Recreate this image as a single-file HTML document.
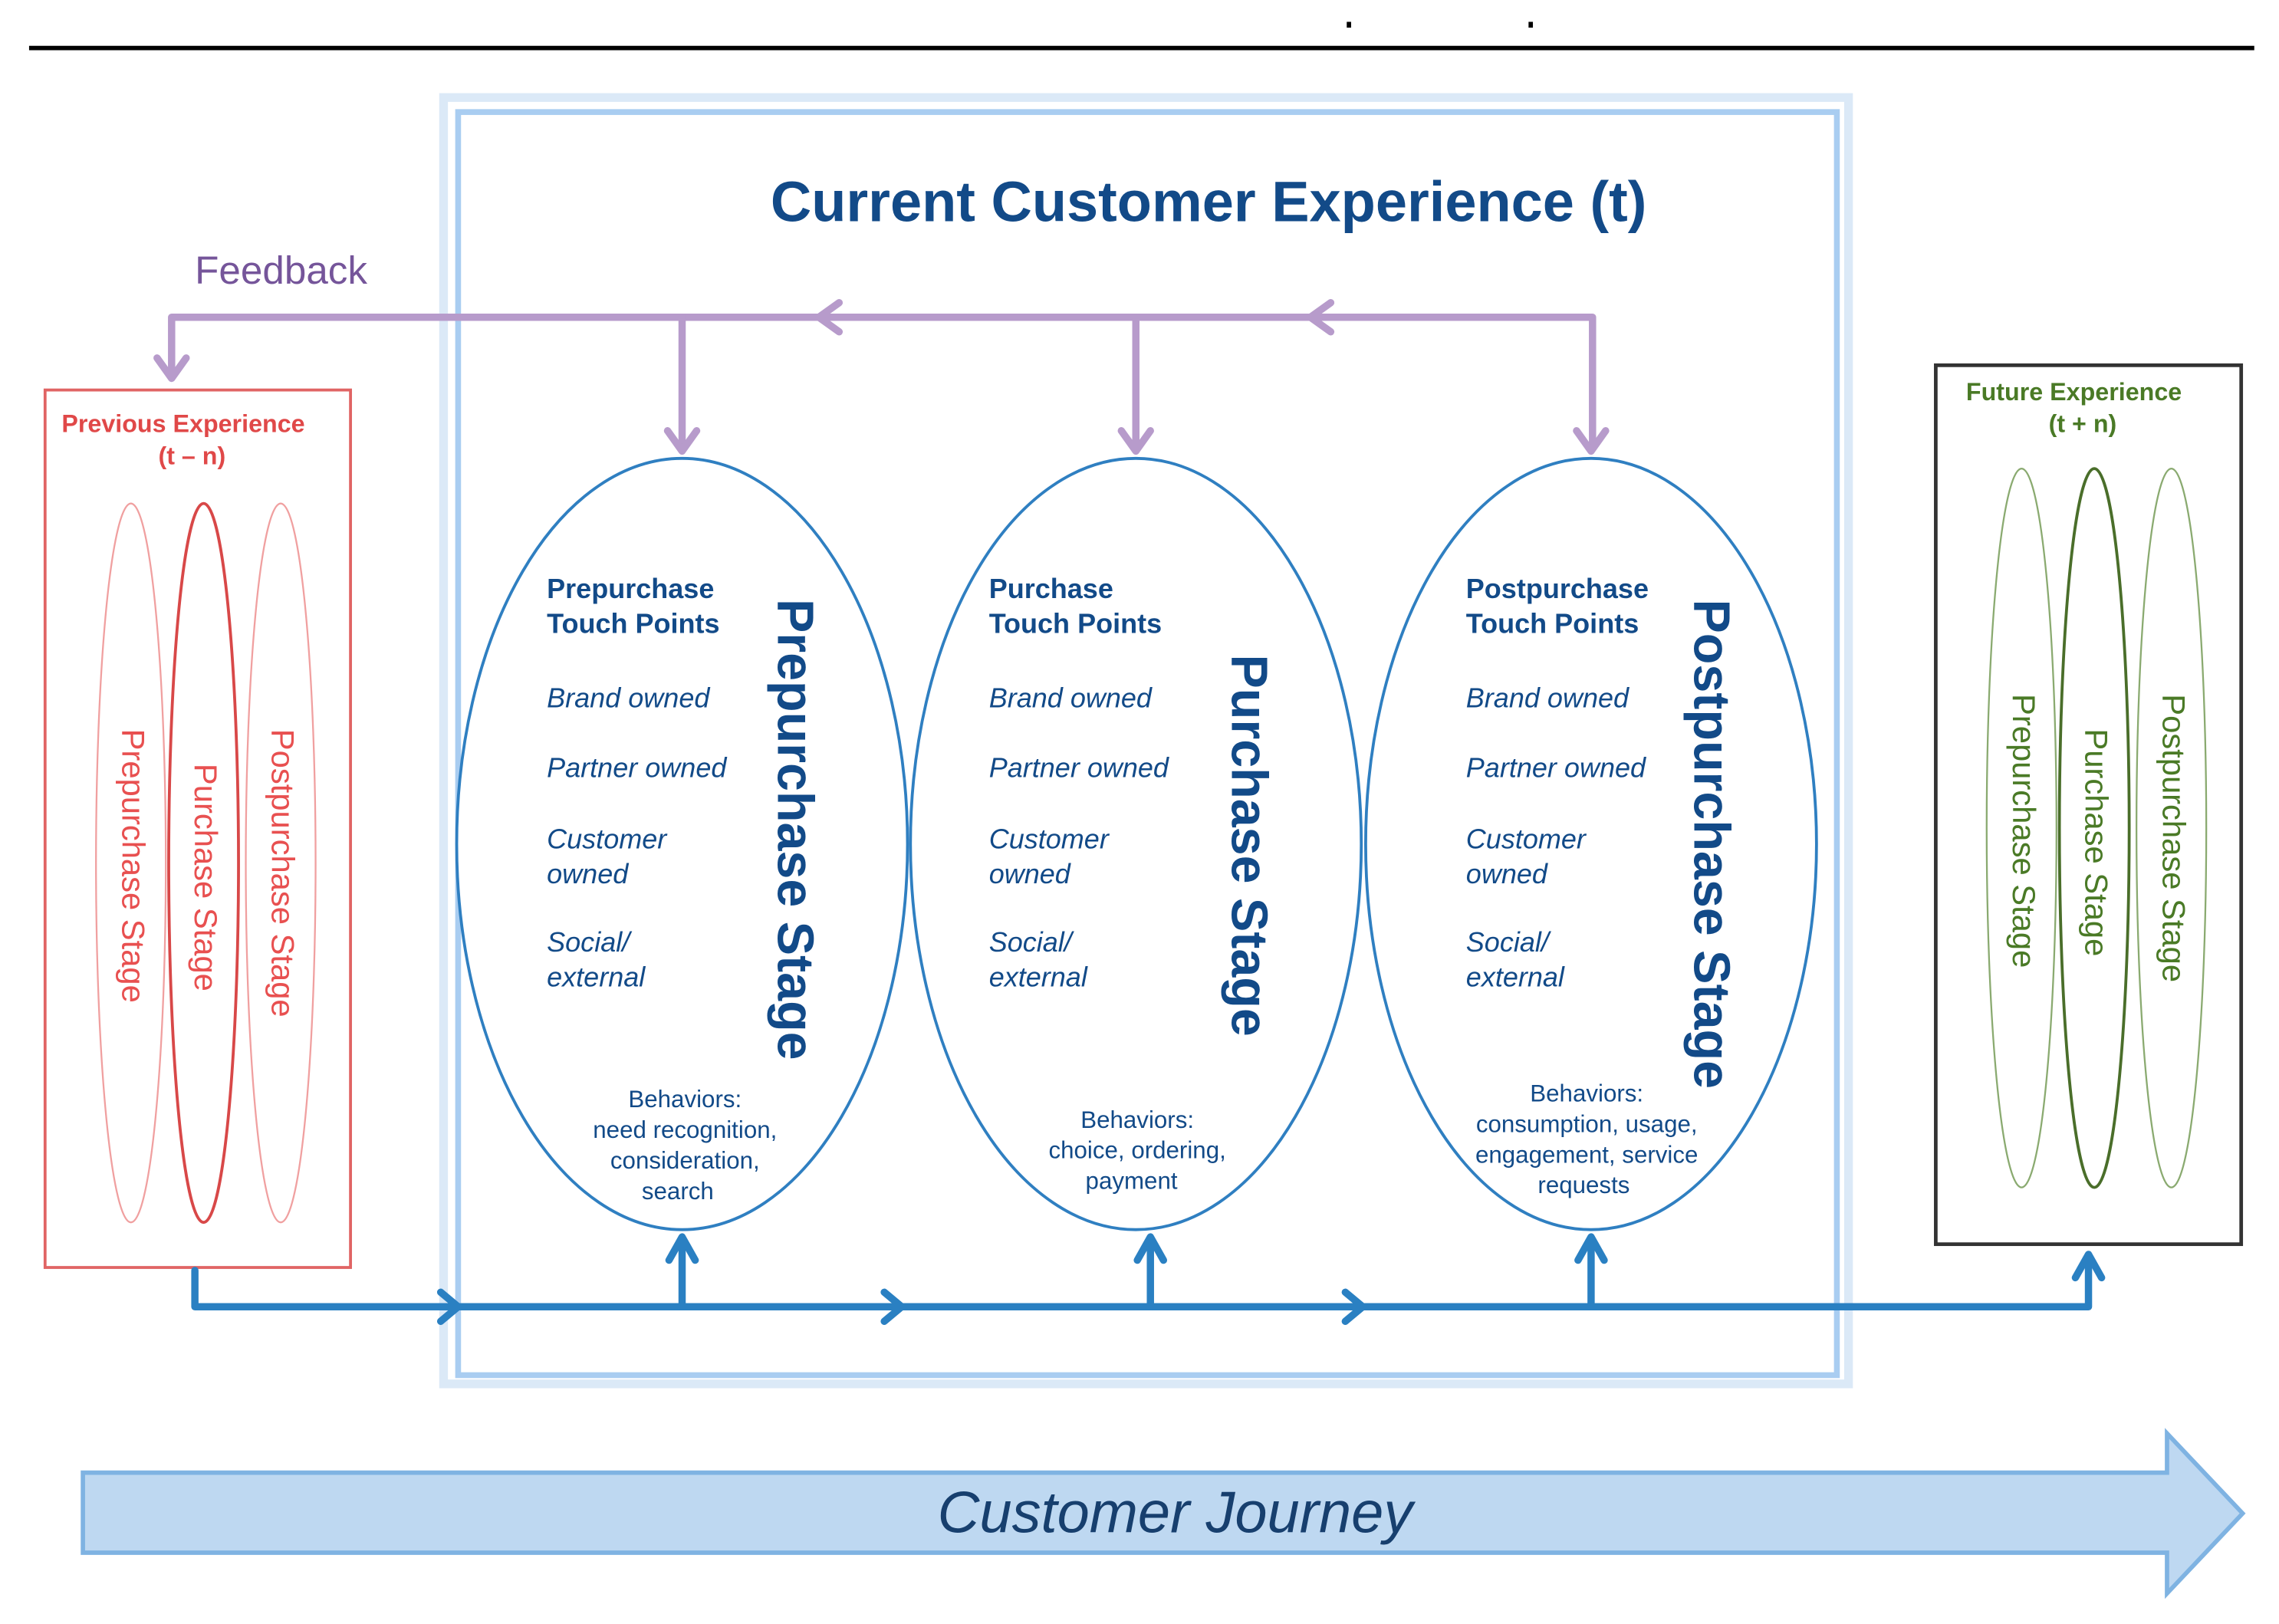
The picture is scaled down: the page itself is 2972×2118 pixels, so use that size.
<!DOCTYPE html>
<html><head><meta charset="utf-8"><style>
html,body{margin:0;padding:0;background:#fff;}
svg{display:block;}
text{font-family:"Liberation Sans",Arial,sans-serif;}
</style></head><body>
<svg width="2972" height="2118" viewBox="0 0 1567 1116" preserveAspectRatio="none" xmlns="http://www.w3.org/2000/svg">
<rect width="1567" height="1116" fill="#fff"/>
<line x1="20" y1="33" x2="1550" y2="33" stroke="#000" stroke-width="3"/>
<rect x="926" y="15" width="3" height="4" fill="#000"/><rect x="1051" y="15" width="3" height="4" fill="#000"/>
<rect x="305" y="67" width="966" height="884" fill="none" stroke="#dbe9f7" stroke-width="6"/>
<rect x="315" y="77" width="948" height="868" fill="none" stroke="#a9cdf1" stroke-width="4"/>
<text x="831" y="152" text-anchor="middle" font-size="39" font-weight="bold" fill="#124a88">Current Customer Experience (t)</text>
<text x="134" y="195" font-size="27" fill="#75559a">Feedback</text>
<g stroke="#b79bcb" stroke-width="5" fill="none" stroke-linecap="round" stroke-linejoin="round">
<polyline points="118,258 118,218 1095,218 1095,308"/>
<line x1="469" y1="218" x2="469" y2="308"/>
<line x1="781" y1="218" x2="781" y2="308"/>
<polyline points="108,246 118,260 128,246"/>
<polyline points="459,296 469,310 479,296"/>
<polyline points="771,296 781,310 791,296"/>
<polyline points="1084,296 1094,310 1104,296"/>
<polyline points="577,208 563,218 577,228"/>
<polyline points="915,208 901,218 915,228"/>
</g>
<rect x="31" y="268" width="210" height="603" fill="none" stroke="#e06464" stroke-width="2"/>
<text x="126" y="297" text-anchor="middle" font-size="17" font-weight="bold" fill="#e04848">Previous Experience</text>
<text x="132" y="319" text-anchor="middle" font-size="17" font-weight="bold" fill="#e04848">(t – n)</text>
<g fill="none">
<ellipse cx="90" cy="593" rx="24" ry="247" stroke="#f0a0a0" stroke-width="1.2"/>
<ellipse cx="193" cy="593" rx="24" ry="247" stroke="#f0a0a0" stroke-width="1.2"/>
<ellipse cx="140" cy="593" rx="24" ry="247" stroke="#d84848" stroke-width="2"/>
</g>
<g font-size="22" fill="#e85050" text-anchor="middle">
<text transform="translate(84,595) rotate(90)">Prepurchase Stage</text>
<text transform="translate(134,603) rotate(90)">Purchase Stage</text>
<text transform="translate(187,600) rotate(90)">Postpurchase Stage</text>
</g>
<rect x="1331" y="251" width="210" height="604" fill="none" stroke="#333" stroke-width="2.5"/>
<text x="1426" y="275" text-anchor="middle" font-size="17" font-weight="bold" fill="#4a7a26">Future Experience</text>
<text x="1432" y="297" text-anchor="middle" font-size="17" font-weight="bold" fill="#4a7a26">(t + n)</text>
<g fill="none">
<ellipse cx="1390" cy="569" rx="24" ry="247" stroke="#8aaa70" stroke-width="1.2"/>
<ellipse cx="1493" cy="569" rx="24" ry="247" stroke="#8aaa70" stroke-width="1.2"/>
<ellipse cx="1440" cy="569" rx="24" ry="247" stroke="#4a6e2a" stroke-width="2"/>
</g>
<g font-size="22" fill="#4a7a26" text-anchor="middle">
<text transform="translate(1384,571) rotate(90)">Prepurchase Stage</text>
<text transform="translate(1434,579) rotate(90)">Purchase Stage</text>
<text transform="translate(1487,576) rotate(90)">Postpurchase Stage</text>
</g>
<g fill="#fff" stroke="#2f7fc1" stroke-width="2">
<ellipse cx="469" cy="580" rx="155" ry="265"/>
<ellipse cx="781" cy="580" rx="155" ry="265"/>
<ellipse cx="1094" cy="580" rx="155" ry="265"/>
</g>
<g fill="#124a88">
<g font-size="19">
<text x="376" y="411" font-weight="bold">Prepurchase</text><text x="376" y="435" font-weight="bold">Touch Points</text>
<text x="376" y="486" font-style="italic">Brand owned</text><text x="376" y="534" font-style="italic">Partner owned</text>
<text x="376" y="583" font-style="italic">Customer</text><text x="376" y="607" font-style="italic">owned</text>
<text x="376" y="654" font-style="italic">Social/</text><text x="376" y="678" font-style="italic">external</text>
<text x="680" y="411" font-weight="bold">Purchase</text><text x="680" y="435" font-weight="bold">Touch Points</text>
<text x="680" y="486" font-style="italic">Brand owned</text><text x="680" y="534" font-style="italic">Partner owned</text>
<text x="680" y="583" font-style="italic">Customer</text><text x="680" y="607" font-style="italic">owned</text>
<text x="680" y="654" font-style="italic">Social/</text><text x="680" y="678" font-style="italic">external</text>
<text x="1008" y="411" font-weight="bold">Postpurchase</text><text x="1008" y="435" font-weight="bold">Touch Points</text>
<text x="1008" y="486" font-style="italic">Brand owned</text><text x="1008" y="534" font-style="italic">Partner owned</text>
<text x="1008" y="583" font-style="italic">Customer</text><text x="1008" y="607" font-style="italic">owned</text>
<text x="1008" y="654" font-style="italic">Social/</text><text x="1008" y="678" font-style="italic">external</text>
</g>
<g font-size="35" font-weight="bold" text-anchor="middle">
<text transform="translate(535,570) rotate(90)">Prepurchase Stage</text>
<text transform="translate(847,581) rotate(90)">Purchase Stage</text>
<text transform="translate(1165,580) rotate(90)">Postpurchase Stage</text>
</g>
<g font-size="16.5" text-anchor="middle">
<text x="471" y="761">Behaviors:</text><text x="471" y="782">need recognition,</text><text x="471" y="803">consideration,</text><text x="466" y="824">search</text>
<text x="782" y="775">Behaviors:</text><text x="782" y="796">choice, ordering,</text><text x="778" y="817">payment</text>
<text x="1091" y="757">Behaviors:</text><text x="1091" y="778">consumption, usage,</text><text x="1091" y="799">engagement, service</text><text x="1089" y="820">requests</text>
</g>
</g>
<g stroke="#2a80c2" stroke-width="5" fill="none" stroke-linecap="round" stroke-linejoin="round">
<polyline points="134,873 134,898 1436,898 1436,866"/>
<line x1="469" y1="898" x2="469" y2="852"/>
<line x1="791" y1="898" x2="791" y2="852"/>
<line x1="1094" y1="898" x2="1094" y2="852"/>
<polyline points="460,866 469,850 478,866"/>
<polyline points="782,866 791,850 800,866"/>
<polyline points="1085,866 1094,850 1103,866"/>
<polyline points="1427,878 1436,862 1445,878"/>
<polyline points="303,888 315,898 303,908"/>
<polyline points="608,888 620,898 608,908"/>
<polyline points="925,888 937,898 925,908"/>
</g>
<polygon points="57,1012 1490,1012 1490,985 1542,1040 1490,1095 1490,1067 57,1067" fill="#bed8f1" stroke="#7fb3e2" stroke-width="3"/>
<text x="808" y="1053" text-anchor="middle" font-size="40" font-style="italic" fill="#173f6e">Customer Journey</text>
</svg>
</body></html>
